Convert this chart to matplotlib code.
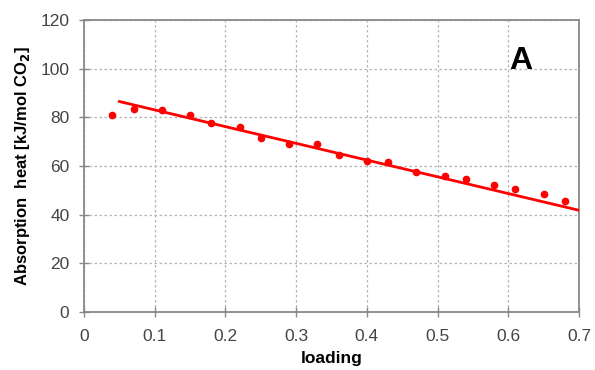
import matplotlib
matplotlib.use('Agg')
import matplotlib.pyplot as plt

plt.rcParams['font.family'] = ['Liberation Sans', 'DejaVu Sans']

# measured points
loading = [0.04, 0.07, 0.11, 0.15, 0.18, 0.22, 0.25, 0.29, 0.33, 0.36,
           0.40, 0.43, 0.47, 0.51, 0.54, 0.58, 0.61, 0.65, 0.68]
heat = [81, 83.5, 83, 81, 77.5, 76, 71.5, 69, 69, 64.5,
        62, 61.5, 57.5, 56, 54.5, 52, 50.5, 48.5, 45.5]

# linear fit line
fit_x = [0.05, 0.70]
fit_y = [86.5, 41.8]

fig = plt.figure(figsize=(5.95, 3.7), dpi=100)
ax = fig.add_axes([84 / 595, 58 / 370, 495 / 595, 292 / 370])

ax.plot(fit_x, fit_y, color='#ff0000', lw=2, zorder=3)
ax.plot(loading, heat, 'o', color='#ff0000', ms=4.5, zorder=4)

ax.set_xlim(0, 0.7)
ax.set_ylim(0, 120)
ax.set_xticks([0, 0.1, 0.2, 0.3, 0.4, 0.5, 0.6, 0.7])
ax.set_xticklabels(['0', '0.1', '0.2', '0.3', '0.4', '0.5', '0.6', '0.7'])
ax.set_yticks(range(0, 121, 20))

ax.grid(True, color='#b4b4b4', ls=(0, (2, 2)), lw=0.9)
ax.set_axisbelow(True)
for s in ax.spines.values():
    s.set_color('#888888')
    s.set_linewidth(1.3)
ax.tick_params(direction='inout', length=7, width=1, color='#888888',
               labelsize=12.5, labelcolor='#444444')
ax.tick_params(axis='x', pad=9)
ax.tick_params(axis='y', pad=7)

ax.set_xlabel('loading', fontsize=12.5, fontweight='bold', labelpad=5)
ax.set_ylabel('Absorption  heat [kJ/mol CO$_\\mathbf{2}$]', fontsize=12,
              fontweight='bold', labelpad=6)

ax.text(0.618, 103.3, 'A', fontsize=23, fontweight='bold', ha='center', va='center')

fig.savefig('out.png', dpi=100)
